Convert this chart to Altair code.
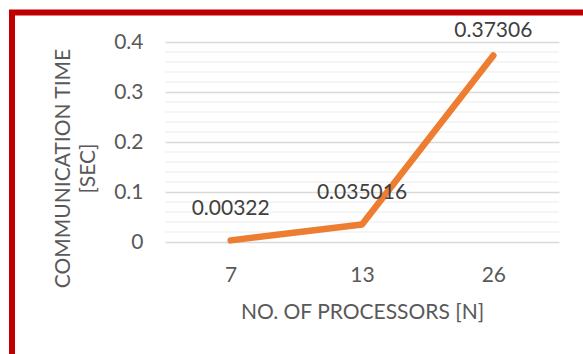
import altair as alt
import pandas as pd

processors = ["7", "13", "26"]
comm_time = [0.00322, 0.035016, 0.37306]
y_ticks = [0, 0.1, 0.2, 0.3, 0.4]
minor_ticks = [0.02, 0.04, 0.06, 0.08, 0.12, 0.14, 0.16, 0.18,
               0.22, 0.24, 0.26, 0.28, 0.32, 0.34, 0.36, 0.38]

df = pd.DataFrame({
    "n": processors,
    "t": comm_time,
    "label": [str(v) for v in comm_time],
})
minor_df = pd.DataFrame({"v": minor_ticks})

FONT = "Lato"
GREY = "#595959"
W, H = 394, 200

xenc = alt.X("n:N", sort=processors, scale=alt.Scale(padding=0.5),
             axis=alt.Axis(title="NO. OF PROCESSORS [N]", labelAngle=0,
                           domain=False, ticks=False, grid=False,
                           labelPadding=22, labelFontSize=21,
                           titleFontSize=21, titleY=70,
                           titleBaseline="middle", titleFontWeight="normal"))
yscale = alt.Scale(domain=[0, 0.4], nice=False)
yaxis = alt.Axis(values=y_ticks, format=".1~f",
                 title=["COMMUNICATION TIME", "[SEC]"],
                 domain=False, ticks=False,
                 gridColor="#D9D9D9", gridWidth=1.5,
                 labelPadding=22, labelFontSize=21,
                 titleFontSize=21, titleFontWeight="normal",
                 titleAngle=-90, titleX=-102, titleY=126,
                 titleAlign="center", titleBaseline="middle",
                 titleLineHeight=25)

frame = alt.Chart(pd.DataFrame({"a": [0]})).mark_rect(
    fill=None, stroke="#C00000", strokeWidth=6
).encode(x=alt.value(-153), x2=alt.value(460),
         y=alt.value(-29.5), y2=alt.value(360))

minor = alt.Chart(minor_df).mark_rule(color="#F2F2F2", strokeWidth=1.5).encode(
    y=alt.Y("v:Q", scale=yscale, axis=yaxis)
)

line = alt.Chart(df).mark_line(
    color="#ED7D31", strokeWidth=6.5, strokeCap="round", strokeJoin="round"
).encode(
    x=xenc,
    y=alt.Y("t:Q", scale=yscale, axis=yaxis),
)

lab_low = alt.Chart(df).transform_filter(alt.datum.t < 0.2).mark_text(
    fontSize=21, font=FONT, color="#404040", dy=-31
).encode(x=alt.X("n:N", sort=processors), y=alt.Y("t:Q", scale=yscale), text="label:N")

lab_high = alt.Chart(df).transform_filter(alt.datum.t >= 0.2).mark_text(
    fontSize=21, font=FONT, color="#404040", dy=-24
).encode(x=alt.X("n:N", sort=processors), y=alt.Y("t:Q", scale=yscale), text="label:N")

chart = alt.layer(minor, line, lab_low, lab_high, frame).properties(
    width=W, height=H,
    autosize=alt.AutoSizeParams(type="none"),
    padding={"left": 165, "top": 42, "right": 24, "bottom": 112},
    background="white",
).configure_view(stroke=None).configure_axis(
    labelFont=FONT, titleFont=FONT, labelColor=GREY, titleColor=GREY
)

chart.save("out.html", embed_options={"renderer": "svg", "actions": False})
